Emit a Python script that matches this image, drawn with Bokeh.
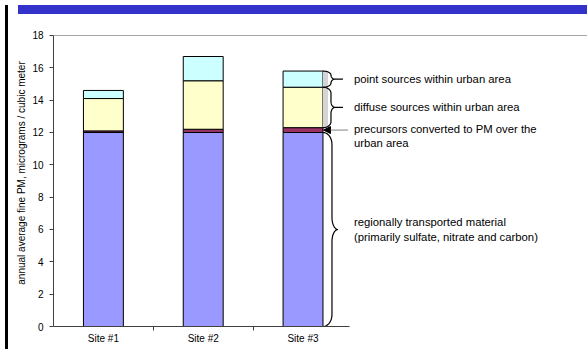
import numpy as np
from bokeh.plotting import figure
from bokeh.models import Range1d, FixedTicker, Arrow, NormalHead, Div, ColumnDataSource
from bokeh.layouts import row, column
from bokeh.core.properties import value
from bokeh.embed import file_html
from bokeh.resources import INLINE

# ---- data ----
sites = ["Site #1", "Site #2", "Site #3"]
regional = [12.0, 12.0, 12.0]
precursors = [0.1, 0.2, 0.3]
diffuse = [2.0, 3.0, 2.5]
point = [0.5, 1.5, 1.0]
y_ticks = [0, 2, 4, 6, 8, 10, 12, 14, 16, 18]
y_label = "annual average fine PM, micrograms / cubic meter"
notes = [
    "point sources within urban area",
    "diffuse sources within urban area",
    "precursors converted to PM over the\nurban area",
    "regionally transported material\n(primarily sulfate, nitrate and carbon)",
]

series = ["regional", "precursors", "diffuse", "point"]
colors = ["#9999FF", "#993366", "#FFFFCC", "#CCFFFF"]
FONT = "Liberation Sans"

PXX = 100.0    # px per x unit
PXY = 16.167   # px per y unit
W, H = 576, 335
ML, MB = 39, 28
FH = H - MB    # frame height in px

xpos = [i + 0.5 for i in range(len(sites))]
src = ColumnDataSource(dict(x=xpos, regional=regional, precursors=precursors,
                            diffuse=diffuse, point=point))

x_end_axis = 2.965
p = figure(width=W, height=H, x_range=Range1d(0, (W - ML) / PXX),
           y_range=Range1d(y_ticks[0], FH / PXY),
           min_border_left=ML, min_border_right=0, min_border_top=0, min_border_bottom=MB,
           toolbar_location=None, output_backend="svg", tools="")
p.outline_line_color = None
p.background_fill_color = "white"
p.border_fill_color = "white"

p.vbar_stack(series, x="x", width=0.4, fill_color=colors, line_color="black",
             line_width=1, source=src)

# ---- axes ----
ax = p.xaxis[0]
ax.ticker = FixedTicker(ticks=xpos, minor_ticks=list(range(1, len(sites))))
ax.major_label_overrides = {x: s for x, s in zip(xpos, sites)}
ax.bounds = (0, x_end_axis)
ax.axis_line_color = "#404040"
ax.major_tick_line_color = None
ax.major_tick_out = 0
ax.major_tick_in = 0
ax.minor_tick_line_color = "#404040"
ax.minor_tick_out = 4
ax.minor_tick_in = 0
ax.major_label_standoff = 2
ax.major_label_text_font = FONT
ax.major_label_text_font_size = "10px"
ax.major_label_text_color = "black"

ay = p.yaxis[0]
ay.ticker = FixedTicker(ticks=y_ticks)
ay.bounds = (y_ticks[0], y_ticks[-1])
ay.axis_line_color = "#404040"
ay.major_tick_line_color = "#404040"
ay.major_tick_out = 4
ay.major_tick_in = 0
ay.minor_tick_line_color = None
ay.major_label_standoff = 6
ay.major_label_text_font = FONT
ay.major_label_text_font_size = "10px"
ay.major_label_text_color = "black"
ay.axis_label = y_label
ay.axis_label_text_font = FONT
ay.axis_label_text_font_size = "10px"
ay.axis_label_text_font_style = "normal"
ay.axis_label_text_color = "black"
ay.axis_label_standoff = 2

p.xgrid.visible = False
p.ygrid.ticker = FixedTicker(ticks=[y_ticks[-1]])
p.ygrid.bounds = (0, x_end_axis)
p.ygrid.grid_line_color = "#A6A6A6"
p.ygrid.grid_line_width = 1

# ---- annotation braces for the last site ----
k = len(sites) - 1
stack = np.cumsum([regional[k], precursors[k], diffuse[k], point[k]])
bar_edge = xpos[k] + 0.2


def brace(y0, y1, x0, xv, xt, rmax):
    X0, Xv, Xt = x0 * PXX, xv * PXX, xt * PXX
    Y0, Y1 = y0 * PXY, y1 * PXY
    ym = (Y0 + Y1) / 2
    r = min(rmax, (Y1 - Y0) / 4)
    t = np.linspace(0, np.pi / 2, 12)
    xs, ys = [], []
    xs += list(X0 + (Xv - X0) * np.sin(t)); ys += list(Y1 - r + r * np.cos(t))
    xs += list(Xt - (Xt - Xv) * np.cos(t)); ys += list(ym + r - r * np.sin(t))
    xs += list(Xt - (Xt - Xv) * np.sin(t)); ys += list(ym - r + r * np.cos(t))
    xs += list(X0 + (Xv - X0) * np.cos(t)); ys += list(Y0 + r - r * np.sin(t))
    return [v / PXX for v in xs], [v / PXY for v in ys]


# light grey strip beside the upper segments
p.quad(left=[bar_edge], right=[bar_edge + 0.05], bottom=[stack[1]], top=[stack[3]],
       fill_color="#D4D4D4", line_color=None)

bxs, bys = [], []
for (lo, hi) in [(stack[2], stack[3]), (stack[1], stack[2])]:
    bx, by = brace(lo, hi, bar_edge, bar_edge + 0.08, bar_edge + 0.12, 6)
    bxs.append(bx); bys.append(by)
bx, by = brace(0, stack[0], bar_edge, bar_edge + 0.09, bar_edge + 0.15, 12)
bxs.append(bx); bys.append(by)
p.multi_line(bxs, bys, line_color="black", line_width=1.2)

# pointer lines
mids = [(stack[2] + stack[3]) / 2, (stack[1] + stack[2]) / 2]
p.segment(x0=[bar_edge + 0.12] * 2, y0=mids, x1=[bar_edge + 0.20] * 2, y1=mids,
          line_color="black", line_width=1.2)

ymp = (stack[0] + stack[1]) / 2
p.add_layout(Arrow(end=NormalHead(size=7, fill_color="black", line_color="black"),
                   x_start=bar_edge + 0.25, y_start=ymp, x_end=bar_edge + 0.005, y_end=ymp,
                   line_color="#808080", line_width=1))

tx = 3.01
tsize = "11.3px"
p.text(x=[tx, tx], y=mids, text=notes[:2], text_font=value(FONT), text_font_size=tsize,
       text_baseline="middle", text_align="left", text_color="black")
p.text(x=[tx], y=[ymp], text=[notes[2]], text_font=value(FONT), text_font_size=tsize,
       text_baseline="top", text_align="left", text_color="black", y_offset=-7)
p.text(x=[tx], y=[stack[0] / 2], text=[notes[3]], text_font=value(FONT), text_font_size=tsize,
       text_baseline="middle", text_align="left", text_color="black")

# ---- page frame ----
header = Div(width=W, height=9, styles={"background-color": "#3333CC"})
border = Div(width=3, height=H + 9, styles={"background-color": "black"})
layout = row(border, column(header, p, spacing=0), spacing=0)

open("out.html", "w").write(file_html(layout, INLINE))
